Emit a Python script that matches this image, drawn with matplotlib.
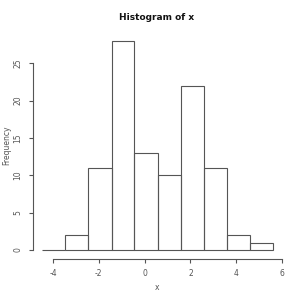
import matplotlib
matplotlib.use("Agg")
import matplotlib.pyplot as plt
import numpy as np

# Histogram data
bin_edges = [-4.47, -3.46, -2.46, -1.44, -0.45, 0.58, 1.6, 2.6, 3.62, 4.62, 5.62]
counts = [0, 2, 11, 28, 13, 10, 22, 11, 2, 1]
x_ticks = [-4, -2, 0, 2, 4, 6]
y_ticks = [0, 5, 10, 15, 20, 25]

grey = "#555555"
fig = plt.figure(figsize=(3, 3), dpi=100)
ax = fig.add_axes([33.3 / 300, 1 - 259 / 300, (290 - 33.3) / 300, (259 - 35) / 300])

edges = np.array(bin_edges)
ax.bar(edges[:-1], counts, width=np.diff(edges), align="edge",
       fill=False, edgecolor=grey, linewidth=0.8)

ax.set_xlim(-4.86, 6.35)
ax.set_ylim(-1.2, 28.78)

for s in ["top", "right"]:
    ax.spines[s].set_visible(False)
ax.spines["left"].set_bounds(0, 25)
ax.spines["bottom"].set_bounds(-4, 6)
for s in ["left", "bottom"]:
    ax.spines[s].set_color(grey)
    ax.spines[s].set_linewidth(0.8)

ax.set_xticks(x_ticks)
ax.set_xticklabels([str(t) for t in x_ticks])
ax.set_yticks(y_ticks)
ax.set_yticklabels([str(t) for t in y_ticks], rotation=90, va="center")
ax.tick_params(colors=grey, labelcolor=grey, labelsize=5.5, length=3, width=0.8, pad=4)
ax.tick_params(axis="y", pad=5)

fig.text(157 / 300, 1 - 288 / 300, "x", ha="center", va="center", fontsize=5.5, color=grey)
fig.text(7 / 300, 1 - 145 / 300, "Frequency", rotation=90, ha="center", va="center",
         fontsize=5.5, color=grey)
fig.text(157 / 300, 1 - 17 / 300, "Histogram of x", ha="center", va="center",
         fontsize=6.5, fontweight="bold", color="#111111")

fig.savefig("out.png", dpi=100)
